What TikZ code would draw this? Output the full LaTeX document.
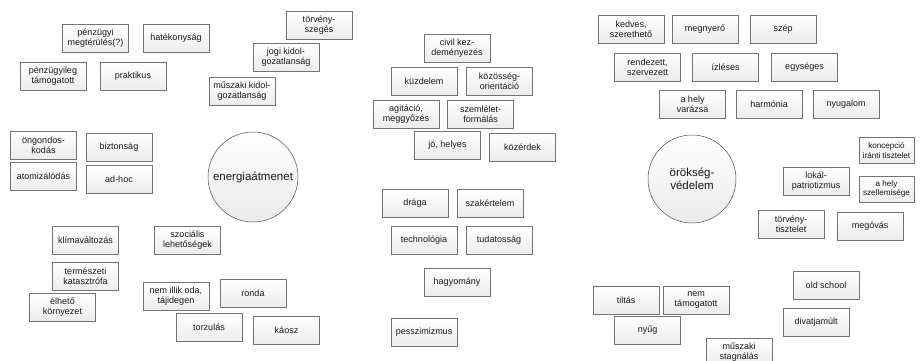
\documentclass[tikz,border=0pt]{standalone}
\usepackage{fontspec}
\setmainfont{Liberation Sans}
\usetikzlibrary{shadows}

\begin{document}
\begin{tikzpicture}[x=1pt,y=1pt]
\tikzstyle{every node}+=[inner sep=1pt, align=center, text=black!90]
\tikzstyle{word}=[draw=black!55, line width=0.5pt, top color=white, bottom color=gray!15,
  minimum width=66pt, minimum height=28pt, font=\fontsize{9}{10}\selectfont,
  drop shadow={shadow xshift=0.8pt, shadow yshift=-0.8pt, fill=black!60}]
\tikzstyle{narrow}=[word, minimum width=55pt, minimum height=26pt, font=\fontsize{8.1}{9.4}\selectfont]
\tikzstyle{topic}=[circle, draw=black!70, line width=0.5pt, top color=white, bottom color=gray!16,
  minimum size=90pt, font=\fontsize{11.5}{13}\selectfont]
\useasboundingbox (0,0) rectangle (923,-361);
% energiaatmenet
\node [topic] (energia) at (253,-177) {energiaátmenet};
\node [word] (penzmeg) at (95.5,-38.5) {pénzügyi\\megtérülés(?)};
\node [word] (hatekony) at (176,-38.5) {hatékonyság};
\node [word] (penztam) at (53,-76.5) {pénzügyileg\\támogatott};
\node [word] (praktikus) at (133,-76.5) {praktikus};
\node [word] (torvszeg) at (319,-25) {törvény-\\szegés};
\node [word] (jogi) at (286,-57.5) {jogi kidol-\\gozatlanság};
\node [word] (muszkid) at (242,-91) {műszaki kidol-\\gozatlanság};
\node [word] (ongond) at (43.5,-145) {öngondos-\\kodás};
\node [word] (atomiz) at (43.5,-176) {atomizálódás};
\node [word] (bizt) at (119,-147) {biztonság};
\node [word] (adhoc) at (119,-179.5) {ad-hoc};
\node [word] (klima) at (85.5,-240) {klímaváltozás};
\node [word] (szoc) at (187.5,-240) {szociális\\lehetőségek};
\node [word] (termkat) at (85.5,-276) {természeti\\katasztrófa};
\node [word] (elheto) at (62.5,-307.5) {élhető\\környezet};
\node [word] (nemillik) at (176,-296.5) {nem illik oda,\\tájidegen};
\node [word] (ronda) at (253,-293.5) {ronda};
\node [word] (torzul) at (209,-327.5) {torzulás};
\node [word] (kaosz) at (286.5,-330) {káosz};
% kozos
\node [word] (civil) at (457,-48) {civil kez-\\deményezés};
\node [word] (kuzd) at (424,-81) {küzdelem};
\node [word] (kozoss) at (499.5,-81) {közösség-\\orientáció};
\node [word] (agit) at (406,-114) {agitáció,\\meggyőzés};
\node [word] (szeml) at (480.5,-114) {szemlélet-\\formálás};
\node [word] (johely) at (447.5,-145) {jó, helyes};
\node [word] (kozerd) at (522.5,-147) {közérdek};
\node [word] (draga) at (415,-203.5) {drága};
\node [word] (szakert) at (490,-203.5) {szakértelem};
\node [word] (techno) at (424,-240) {technológia};
\node [word] (tudat) at (499,-240) {tudatosság};
\node [word] (hagyom) at (457,-282.5) {hagyomány};
\node [word] (pesszim) at (424,-332.5) {pesszimizmus};
% oroksegvedelem
\node [topic, minimum size=88pt] (orokseg) at (692,-179) {örökség-\\védelem};
\node [word] (kedves) at (631,-29) {kedves,\\szerethető};
\node [word] (megnyero) at (705,-29) {megnyerő};
\node [word] (szep) at (783,-29) {szép};
\node [word] (rendez) at (647.5,-67) {rendezett,\\szervezett};
\node [word] (izles) at (725.5,-67) {ízléses};
\node [word] (egyseg) at (804.5,-67) {egységes};
\node [word] (varazs) at (692.5,-104.5) {a hely\\varázsa};
\node [word] (harmon) at (769,-104.5) {harmónia};
\node [word] (nyugal) at (846,-104.5) {nyugalom};
\node [narrow] (koncep) at (886.5,-150.5) {koncepció\\iránti tisztelet};
\node [word] (lokal) at (816,-181) {lokál-\\patriotizmus};
\node [narrow] (szellem) at (886.5,-189) {a hely\\szellemisége};
\node [word] (torvtisz) at (791,-224.5) {törvény-\\tisztelet};
\node [word] (megovas) at (870,-226) {megóvás};
\node [word] (oldsch) at (826,-285.5) {old school};
\node [word] (tiltas) at (626,-300) {tiltás};
\node [word] (nemtam) at (696,-300) {nem\\támogatott};
\node [word] (divat) at (816,-322) {divatjamúlt};
\node [word] (nyug) at (647.5,-330) {nyűg};
\node [word] (muszstag) at (739,-352) {műszaki\\stagnálás};
\end{tikzpicture}
\end{document}
